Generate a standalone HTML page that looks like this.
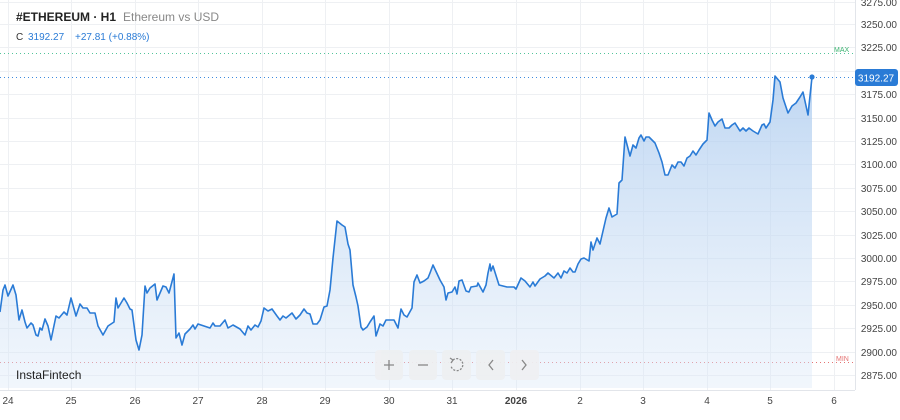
<!DOCTYPE html>
<html><head><meta charset="utf-8"><style>
body{margin:0;background:#fff;width:900px;height:420px;overflow:hidden;font-family:"Liberation Sans",sans-serif}
</style></head><body>
<svg width="900" height="420" xmlns="http://www.w3.org/2000/svg" style="position:absolute;left:0;top:0">
<defs><linearGradient id="g" x1="0" y1="0" x2="0" y2="1"><stop offset="0" stop-color="#a9c9ee" stop-opacity="0.75"/><stop offset="1" stop-color="#dce9f8" stop-opacity="0.4"/></linearGradient></defs>
<g stroke="#eef0f3" stroke-width="1">
<line x1="0" y1="24.5" x2="855" y2="24.5"/><line x1="0" y1="47.5" x2="855" y2="47.5"/><line x1="0" y1="71.5" x2="855" y2="71.5"/><line x1="0" y1="94.5" x2="855" y2="94.5"/><line x1="0" y1="118.5" x2="855" y2="118.5"/><line x1="0" y1="141.5" x2="855" y2="141.5"/><line x1="0" y1="164.5" x2="855" y2="164.5"/><line x1="0" y1="188.5" x2="855" y2="188.5"/><line x1="0" y1="211.5" x2="855" y2="211.5"/><line x1="0" y1="235.5" x2="855" y2="235.5"/><line x1="0" y1="258.5" x2="855" y2="258.5"/><line x1="0" y1="281.5" x2="855" y2="281.5"/><line x1="0" y1="305.5" x2="855" y2="305.5"/><line x1="0" y1="328.5" x2="855" y2="328.5"/><line x1="0" y1="352.5" x2="855" y2="352.5"/><line x1="0" y1="375.5" x2="855" y2="375.5"/><line x1="0" y1="2.5" x2="855" y2="2.5"/>
<line x1="8.5" y1="0" x2="8.5" y2="390"/><line x1="71.5" y1="0" x2="71.5" y2="390"/><line x1="135.5" y1="0" x2="135.5" y2="390"/><line x1="198.5" y1="0" x2="198.5" y2="390"/><line x1="262.5" y1="0" x2="262.5" y2="390"/><line x1="325.5" y1="0" x2="325.5" y2="390"/><line x1="389.5" y1="0" x2="389.5" y2="390"/><line x1="452.5" y1="0" x2="452.5" y2="390"/><line x1="516.5" y1="0" x2="516.5" y2="390"/><line x1="580.5" y1="0" x2="580.5" y2="390"/><line x1="643.5" y1="0" x2="643.5" y2="390"/><line x1="707.5" y1="0" x2="707.5" y2="390"/><line x1="770.5" y1="0" x2="770.5" y2="390"/><line x1="834.5" y1="0" x2="834.5" y2="390"/>
</g>
<line x1="855.5" y1="0" x2="855.5" y2="390" stroke="#e2e5ea"/>
<line x1="0" y1="390.5" x2="855" y2="390.5" stroke="#e2e5ea"/>
<line x1="0" y1="53.5" x2="855" y2="53.5" stroke="#52c49a" stroke-dasharray="1,3"/>
<line x1="0" y1="362.5" x2="855" y2="362.5" stroke="#e57373" stroke-dasharray="1,3"/>
<text x="834" y="52" font-size="7" fill="#3cb371">MAX</text>
<text x="836" y="361" font-size="7" fill="#e57373">MIN</text>
<path d="M0,312 L3,290 5,285 8,296 13,285 16,295 19,320 22,310 25,322 27,328 31,323 33,325 36,335 38,336 40,328 42,330 45,319 48,326 51,340 56,316 59,318 64,312 67,315 71,298 76,316 80,304 83,308 87,308 90,313 95,313 98,326 103,335 108,326 114,322 116,298 118,308 124,298 127,303 130,309 132,310 136,340 139,350 142,335 145,286 147,293 150,288 155,284 157,300 163,286 166,287 169,293 174,274 176,338 179,333 182,345 185,334 190,329 193,325 195,329 198,324 210,328 213,323 215,326 220,326 225,320 228,328 233,325 240,329 245,335 248,326 251,330 255,325 258,327 261,321 264,308 268,311 272,309 277,316 280,320 283,316 286,318 292,313 296,319 300,315 304,309 307,313 310,314 313,324 317,324 320,320 324,307 327,306 330,290 333,258 337,221 342,225 345,227 348,244 350,250 353,285 356,297 358,306 361,327 363,330 367,327 370,322 374,316 376,336 380,324 383,326 386,320 394,320 398,328 401,309 404,315 407,317 412,308 414,282 417,275 420,283 424,281 428,278 430,273 433,265 440,280 444,287 446,300 448,293 452,292 455,287 457,294 459,281 462,280 466,291 469,292 471,287 477,286 478,283 483,292 486,285 488,273 490,264 491,271 493,266 499,285 507,287 514,287 516,289 521,278 525,281 530,287 533,282 535,286 540,279 545,276 548,273 554,278 558,273 561,278 564,271 567,273 570,268 573,272 575,272 578,264 581,259 584,258 589,261 591,242 593,250 597,238 600,244 606,218 609,208 612,217 617,214 619,183 622,180 625,137 630,156 633,145 636,148 639,138 641,135 644,141 646,137 649,137 655,143 659,153 662,162 665,175 668,175 672,165 675,168 678,162 681,162 684,166 687,158 690,156 693,151 696,155 699,150 703,144 707,140 709,113 712,120 715,126 718,122 722,119 725,128 729,128 732,125 735,123 740,131 743,128 746,131 749,128 753,131 758,134 762,125 764,124 766,128 770,122 773,100 775,76 780,82 783,98 788,113 792,106 796,103 800,97 803,92 808,115 812,77 L812,388 L0,388 Z" fill="url(#g)"/>
<line x1="0" y1="77.5" x2="855" y2="77.5" stroke="#3d8be0" stroke-dasharray="1,3"/>
<path fill="none" stroke="#2a7bd6" stroke-width="1.6" stroke-linejoin="round" d="M0,312 L3,290 5,285 8,296 13,285 16,295 19,320 22,310 25,322 27,328 31,323 33,325 36,335 38,336 40,328 42,330 45,319 48,326 51,340 56,316 59,318 64,312 67,315 71,298 76,316 80,304 83,308 87,308 90,313 95,313 98,326 103,335 108,326 114,322 116,298 118,308 124,298 127,303 130,309 132,310 136,340 139,350 142,335 145,286 147,293 150,288 155,284 157,300 163,286 166,287 169,293 174,274 176,338 179,333 182,345 185,334 190,329 193,325 195,329 198,324 210,328 213,323 215,326 220,326 225,320 228,328 233,325 240,329 245,335 248,326 251,330 255,325 258,327 261,321 264,308 268,311 272,309 277,316 280,320 283,316 286,318 292,313 296,319 300,315 304,309 307,313 310,314 313,324 317,324 320,320 324,307 327,306 330,290 333,258 337,221 342,225 345,227 348,244 350,250 353,285 356,297 358,306 361,327 363,330 367,327 370,322 374,316 376,336 380,324 383,326 386,320 394,320 398,328 401,309 404,315 407,317 412,308 414,282 417,275 420,283 424,281 428,278 430,273 433,265 440,280 444,287 446,300 448,293 452,292 455,287 457,294 459,281 462,280 466,291 469,292 471,287 477,286 478,283 483,292 486,285 488,273 490,264 491,271 493,266 499,285 507,287 514,287 516,289 521,278 525,281 530,287 533,282 535,286 540,279 545,276 548,273 554,278 558,273 561,278 564,271 567,273 570,268 573,272 575,272 578,264 581,259 584,258 589,261 591,242 593,250 597,238 600,244 606,218 609,208 612,217 617,214 619,183 622,180 625,137 630,156 633,145 636,148 639,138 641,135 644,141 646,137 649,137 655,143 659,153 662,162 665,175 668,175 672,165 675,168 678,162 681,162 684,166 687,158 690,156 693,151 696,155 699,150 703,144 707,140 709,113 712,120 715,126 718,122 722,119 725,128 729,128 732,125 735,123 740,131 743,128 746,131 749,128 753,131 758,134 762,125 764,124 766,128 770,122 773,100 775,76 780,82 783,98 788,113 792,106 796,103 800,97 803,92 808,115 812,77"/>
<circle cx="812" cy="77" r="2.6" fill="#2a7bd6"/>
<rect x="855" y="69" width="43" height="17" rx="3" fill="#2a7bd6"/>
<text x="876" y="81.5" font-size="10" fill="#fff" text-anchor="middle">3192.27</text>
<g font-size="10" fill="#444" text-anchor="end">
<text x="897" y="6">3275.00</text><text x="897" y="28">3250.00</text><text x="897" y="51">3225.00</text><text x="897" y="98">3175.00</text><text x="897" y="122">3150.00</text><text x="897" y="145">3125.00</text><text x="897" y="168">3100.00</text><text x="897" y="192">3075.00</text><text x="897" y="215">3050.00</text><text x="897" y="239">3025.00</text><text x="897" y="262">3000.00</text><text x="897" y="285">2975.00</text><text x="897" y="309">2950.00</text><text x="897" y="332">2925.00</text><text x="897" y="356">2900.00</text><text x="897" y="379">2875.00</text>
</g>
<g font-size="10" fill="#444" text-anchor="middle">
<text x="8" y="404">24</text><text x="71" y="404">25</text><text x="135" y="404">26</text><text x="198" y="404">27</text><text x="262" y="404">28</text><text x="325" y="404">29</text><text x="389" y="404">30</text><text x="452" y="404">31</text><text x="516" y="404" font-weight="bold">2026</text><text x="580" y="404">2</text><text x="643" y="404">3</text><text x="707" y="404">4</text><text x="770" y="404">5</text><text x="834" y="404">6</text>
</g>
<g fill="#eef0f2" opacity="0.9">
<rect x="375" y="350" width="28" height="30" rx="4"/><rect x="409" y="350" width="28" height="30" rx="4"/><rect x="442" y="350" width="29" height="30" rx="4"/><rect x="476" y="350" width="29" height="30" rx="4"/><rect x="510" y="350" width="29" height="30" rx="4"/>
</g>
<g stroke="#888" stroke-width="1.3" fill="none">
<path d="M384,365 h10 M389,360 v10"/><path d="M418,365 h10"/>
<path d="M453,360 A6,6 0 1 1 451,366" stroke-dasharray="2,1.5"/><path d="M450,358 l3,2 -2,3"/>
<path d="M493,360 l-4,5 4,5"/><path d="M522,360 l4,5 -4,5"/>
</g>
<text x="16" y="379" font-size="12" fill="#222">InstaFintech</text>
<text x="16" y="21" font-size="12" font-weight="bold" fill="#222">#ETHEREUM · H1</text>
<text x="123" y="21" font-size="12" fill="#888">Ethereum vs USD</text>
<text x="16" y="40" font-size="10" fill="#333">C</text>
<text x="28" y="40" font-size="10" fill="#2a7bd6">3192.27</text>
<text x="75" y="40" font-size="10" fill="#2a7bd6">+27.81 (+0.88%)</text>
</svg>
</body></html>
